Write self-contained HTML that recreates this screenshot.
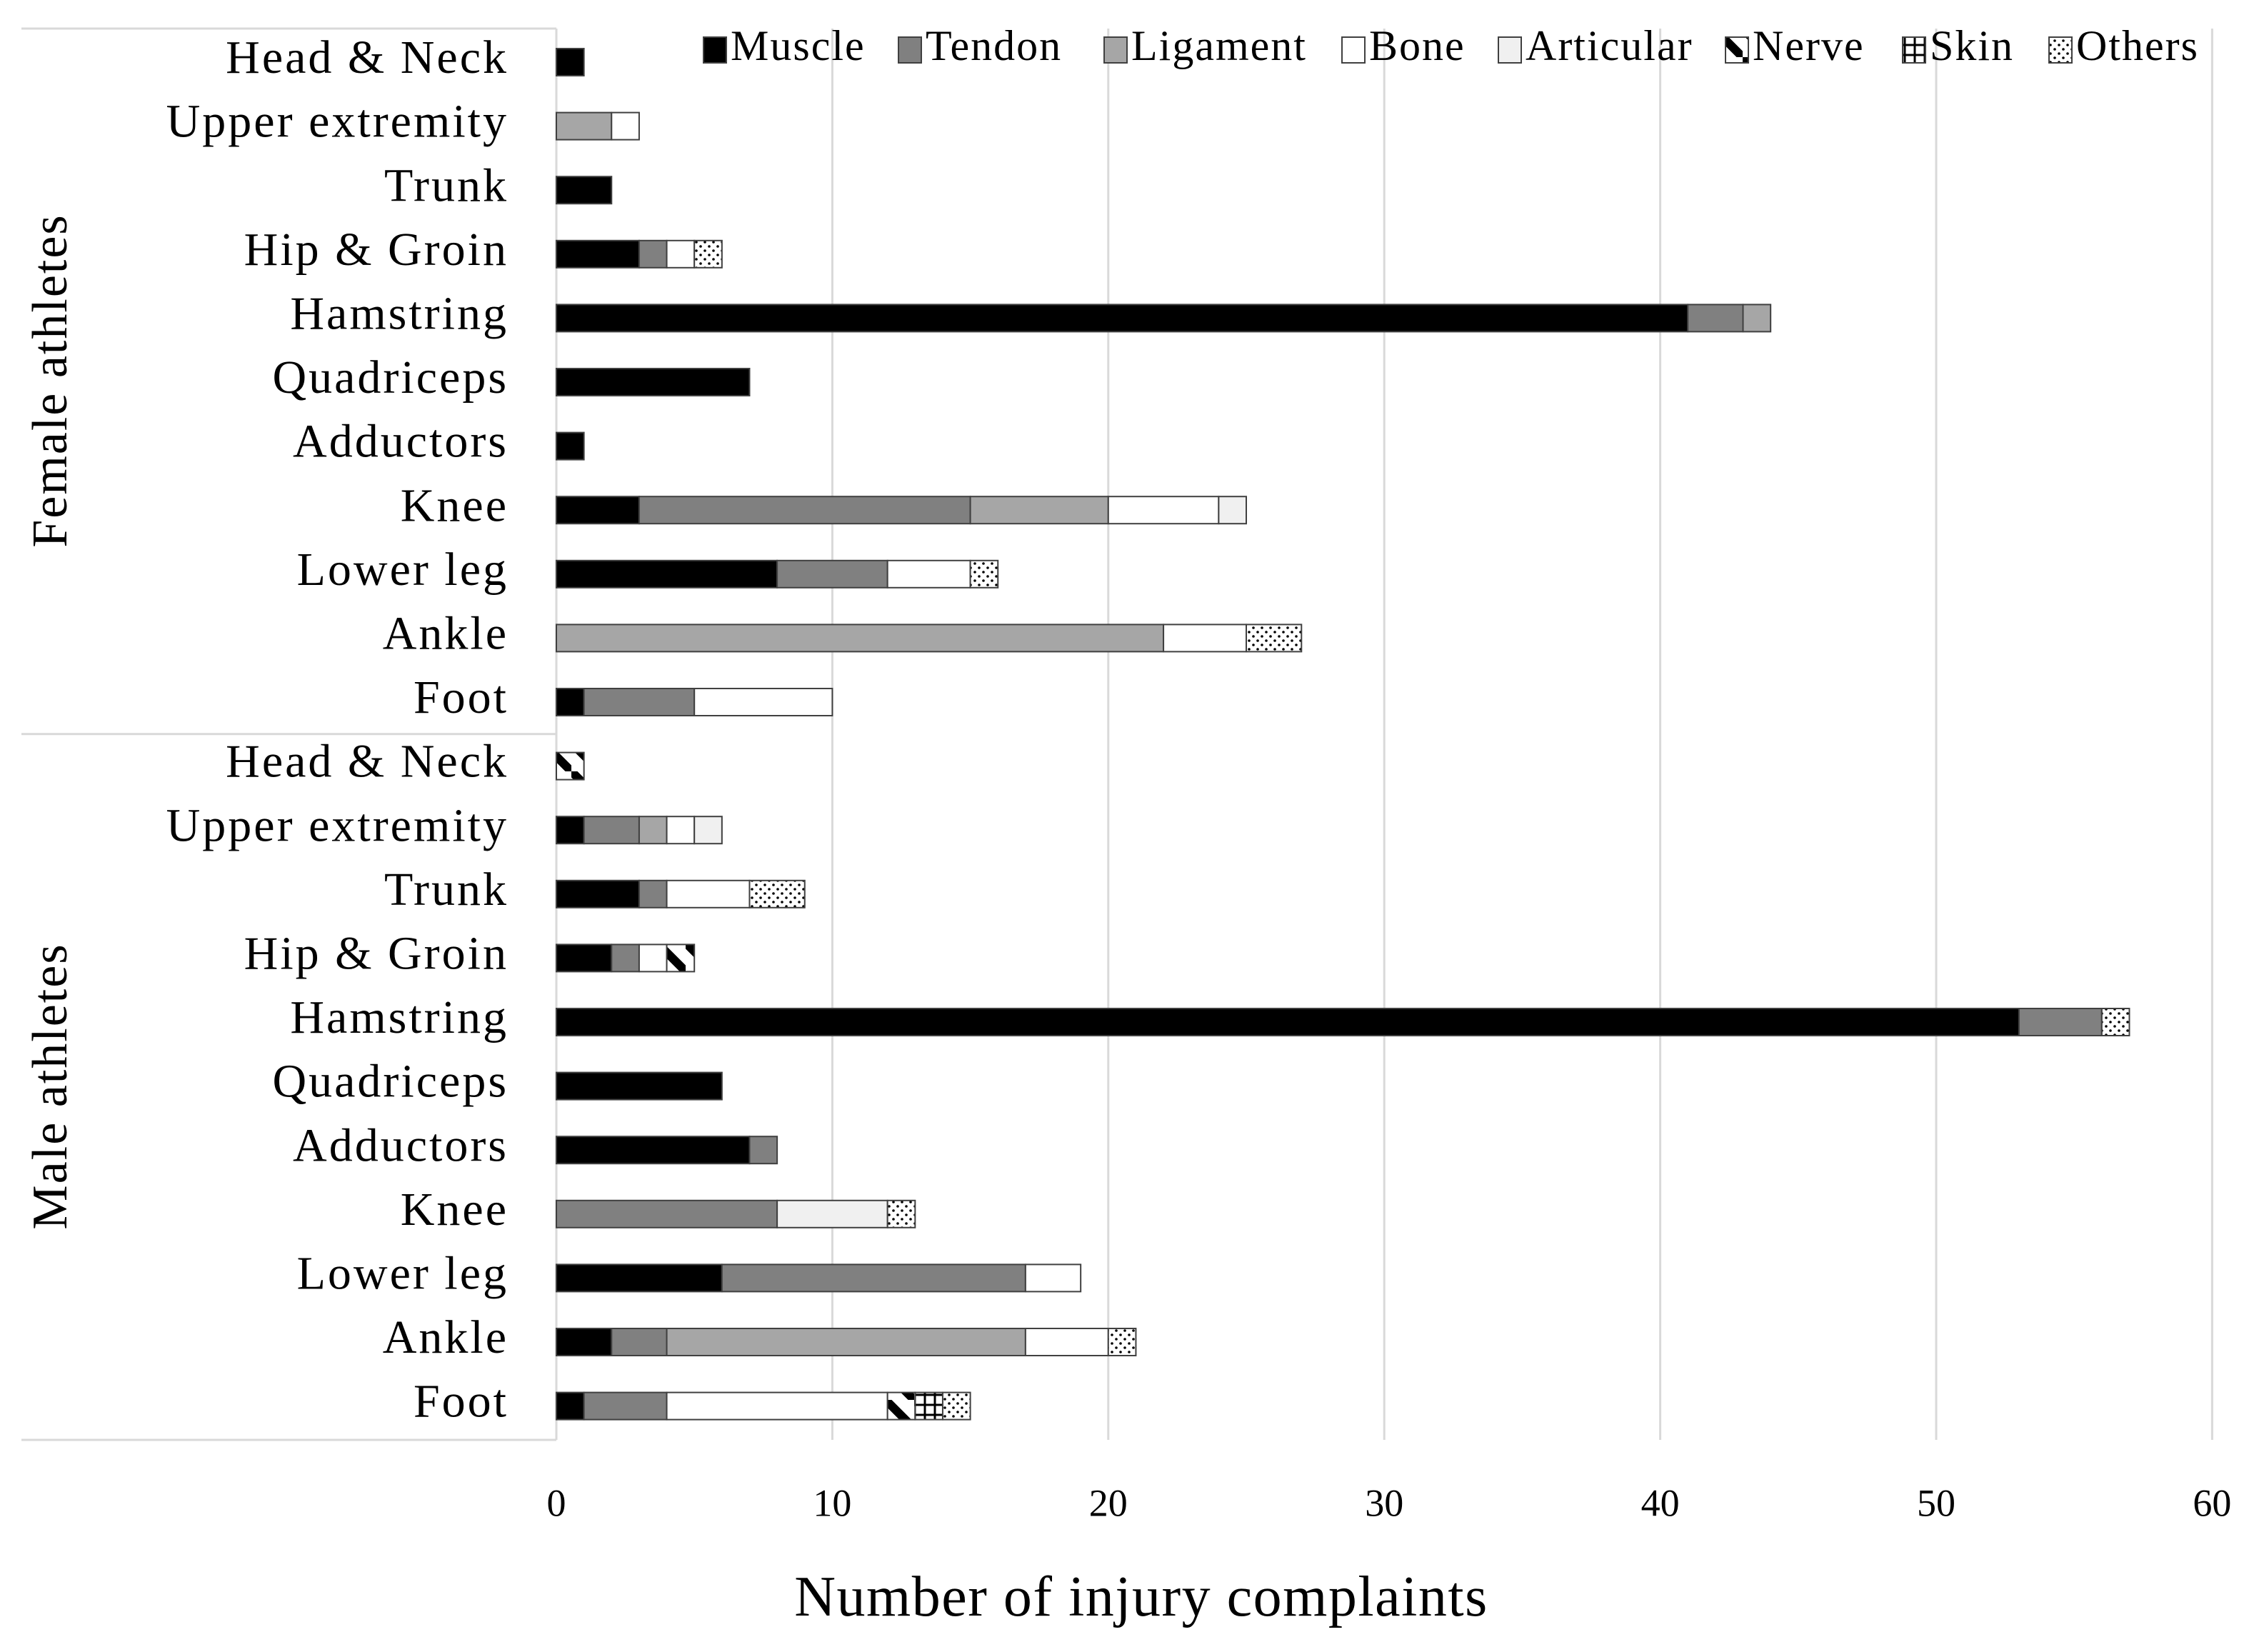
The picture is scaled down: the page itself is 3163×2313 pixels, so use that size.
<!DOCTYPE html>
<html><head><meta charset="utf-8"><style>
html,body{margin:0;padding:0;background:#fff;}
svg{display:block;font-family:"Liberation Serif",serif;}
</style></head><body>
<svg id="chart" width="3163" height="2313" viewBox="0 0 3163 2313" xmlns="http://www.w3.org/2000/svg">
<defs>
<pattern id="p-others" width="12" height="12" patternUnits="userSpaceOnUse"><rect width="12" height="12" fill="#fff"/><circle cx="3" cy="3" r="1.8" fill="#000"/><circle cx="9" cy="9" r="1.8" fill="#000"/></pattern>
<pattern id="p-nerve" width="40" height="40" patternUnits="userSpaceOnUse"><rect width="40" height="40" fill="#fff"/><path d="M-10 -10 L50 50" stroke="#000" stroke-width="12"/></pattern>
<pattern id="p-skin" width="14" height="14" patternUnits="userSpaceOnUse"><rect width="14" height="14" fill="#fff"/><path d="M7 0V14M0 7H14" stroke="#000" stroke-width="3"/></pattern>
</defs>
<g id="grid"></g>
<g id="frame"></g>
<g id="bars"></g>
<g id="labels"></g>
<g id="legend"></g>
<text x="77" y="533" font-size="70" letter-spacing="2" text-anchor="middle" dominant-baseline="middle" transform="rotate(-90 77 533)">Female athletes</text>
<text x="77" y="1521" font-size="70" letter-spacing="2" text-anchor="middle" dominant-baseline="middle" transform="rotate(-90 77 1521)">Male athletes</text>
<text x="1598" y="2262" font-size="80" letter-spacing="1.5" text-anchor="middle">Number of injury complaints</text>
</svg>
<script>
const categories = ["Head & Neck","Upper extremity","Trunk","Hip & Groin","Hamstring","Quadriceps","Adductors","Knee","Lower leg","Ankle","Foot",
"Head & Neck","Upper extremity","Trunk","Hip & Groin","Hamstring","Quadriceps","Adductors","Knee","Lower leg","Ankle","Foot"];
const seriesNames = ["Muscle","Tendon","Ligament","Bone","Articular","Nerve","Skin","Others"];
const muscle    = [1,0,2,3,41,7,1,3,8,0,1, 0,1,3,2,53,6,7,0,6,2,1];
const tendon    = [0,0,0,1,2,0,0,12,4,0,4, 0,2,1,1,3,0,1,8,11,2,3];
const ligament  = [0,2,0,0,1,0,0,5,0,22,0, 0,1,0,0,0,0,0,0,0,13,0];
const bone      = [0,1,0,1,0,0,0,4,3,3,5, 0,1,3,1,0,0,0,0,2,3,8];
const articular = [0,0,0,0,0,0,0,1,0,0,0, 0,1,0,0,0,0,0,4,0,0,0];
const nerve     = [0,0,0,0,0,0,0,0,0,0,0, 1,0,0,1,0,0,0,0,0,0,1];
const skin      = [0,0,0,0,0,0,0,0,0,0,0, 0,0,0,0,0,0,0,0,0,0,1];
const others    = [0,0,0,1,0,0,0,0,1,2,0, 0,0,2,0,1,0,0,1,0,1,1];
const xTicks = [0,10,20,30,40,50,60];

const series = [muscle,tendon,ligament,bone,articular,nerve,skin,others];
const fills = ["#000","#808080","#a6a6a6","#fff","#f0f0f0","url(#p-nerve)","url(#p-skin)","url(#p-others)"];
const NS="http://www.w3.org/2000/svg";
const X0=779, UNIT=38.64, Y0=87, STEP=89.6, BH=38, TOP=40, BOT=2016;
const xs=v=>X0+v*UNIT, ys=i=>Y0+i*STEP;
function mk(tag,attrs,parent){const e=document.createElementNS(NS,tag);for(const k in attrs)e.setAttribute(k,attrs[k]);parent.appendChild(e);return e;}
const grid=document.getElementById('grid'),frame=document.getElementById('frame'),bars=document.getElementById('bars'),labels=document.getElementById('labels'),legend=document.getElementById('legend');
xTicks.forEach(t=>{
  if(t>0){const l=mk('line',{x1:xs(t),x2:xs(t),y1:TOP,y2:BOT,stroke:'#d9d9d9','stroke-width':3},grid);
  
  }
  const tx=mk('text',{x:xs(t),y:2110,'font-size':54,'text-anchor':'middle','dominant-baseline':'middle'},labels);
  tx.textContent=t;
  
  
});
[[30,TOP,X0,TOP],[30,(ys(10)+ys(11))/2,X0,(ys(10)+ys(11))/2],[30,BOT,X0,BOT],[X0,TOP,X0,BOT]].forEach((c,i)=>{
  const l=mk('line',{x1:c[0],y1:c[1],x2:c[2],y2:c[3],stroke:'#d9d9d9','stroke-width':3},frame);
  
  
});
categories.forEach((c,i)=>{
  const t=mk('text',{x:712,y:ys(i),'font-size':66,'letter-spacing':3,'text-anchor':'end','dominant-baseline':'middle'},labels);
  t.textContent=c;
  
  
  let acc=0;
  series.forEach((s,k)=>{
    const v=s[i]; if(!v) return;
    const r=mk('rect',{x:xs(acc),y:ys(i)-BH/2,width:v*UNIT,height:BH,fill:fills[k],stroke:'#404040','stroke-width':2},bars);
    
    
    acc+=v;
  });
});
const legX=[985,1258,1546,1879,2098,2416,2664,2869];
seriesNames.forEach((n,k)=>{
  const r=mk('rect',{x:legX[k],y:52,width:32,height:36,fill:fills[k],stroke:'#404040','stroke-width':2},legend);
  
  
  const t=mk('text',{x:legX[k]+38,y:70,'font-size':60,'letter-spacing':2,'dominant-baseline':'middle'},legend);
  t.textContent=n;
  
  
});
</script>
</body></html>
